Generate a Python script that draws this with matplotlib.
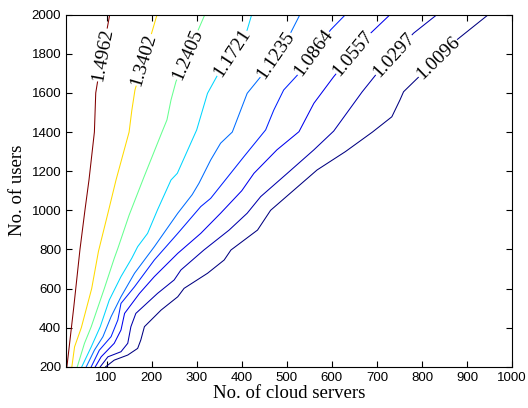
import numpy as np
import matplotlib
matplotlib.use("Agg")
import matplotlib.pyplot as plt
from matplotlib.colors import Normalize

# Contour levels of the cost ratio (servers vs. users)
levels = [1.0096, 1.0297, 1.0557, 1.0864, 1.1235, 1.1721, 1.2405, 1.3402, 1.4962]

# Iso-lines: (no. of cloud servers, no. of users) pairs per level
servers_10096 = [98, 117, 147, 169, 176, 184, 221, 258, 272, 324, 361, 376, 435, 464, 567, 630, 690, 733, 751, 759, 877, 947]
users_10096 = [200, 234, 260, 294, 337, 405, 490, 558, 601, 678, 746, 797, 899, 1000, 1206, 1300, 1400, 1478, 1564, 1606, 1871, 2000]

servers_10297 = [86, 103, 132, 147, 154, 165, 213, 250, 265, 316, 372, 412, 442, 501, 560, 604, 667, 700, 781, 833]
users_10297 = [200, 251, 277, 320, 405, 473, 575, 644, 695, 797, 899, 985, 1070, 1189, 1309, 1405, 1605, 1700, 1905, 2000]

servers_10557 = [75, 88, 117, 132, 140, 173, 206, 258, 309, 353, 400, 427, 478, 527, 560, 604, 678, 729]
users_10557 = [200, 251, 320, 388, 473, 575, 661, 780, 882, 985, 1100, 1189, 1309, 1402, 1547, 1683, 1888, 2000]

servers_10864 = [66, 84, 110, 125, 132, 162, 206, 258, 309, 331, 405, 453, 471, 493, 523, 597, 630]
users_10864 = [200, 285, 354, 439, 524, 609, 746, 882, 1019, 1061, 1275, 1411, 1512, 1615, 1690, 1922, 2000]

servers_11235 = [55, 73, 92, 110, 132, 162, 206, 258, 290, 305, 331, 353, 379, 412, 442, 508, 529]
users_11235 = [200, 285, 354, 456, 558, 678, 814, 985, 1080, 1138, 1257, 1343, 1400, 1598, 1683, 1905, 2000]

servers_11721 = [45, 66, 86, 106, 132, 156, 169, 191, 213, 243, 257, 300, 324, 346, 412, 422]
users_11721 = [200, 302, 405, 541, 661, 755, 814, 882, 1002, 1155, 1189, 1411, 1598, 1690, 1922, 2000]

servers_12405 = [35, 51, 66, 95, 117, 125, 150, 183, 223, 234, 243, 254, 318]
users_12405 = [200, 320, 405, 600, 754, 805, 975, 1170, 1400, 1462, 1564, 1658, 2000]

servers_13402 = [23, 29, 44, 67, 82, 103, 121, 150, 156, 163, 212]
users_13402 = [200, 302, 400, 600, 790, 985, 1155, 1400, 1510, 1615, 2000]

servers_14962 = [12, 27, 41, 52, 61, 73, 76, 83, 107]
users_14962 = [200, 500, 800, 1000, 1155, 1400, 1600, 1700, 2000]

# Height (no. of users) where each level's inline label sits
label_users = [1777, 1794, 1803, 1803, 1794, 1803, 1794, 1769, 1794]

x_ticks = [100, 200, 300, 400, 500, 600, 700, 800, 900, 1000]
y_ticks = [200, 400, 600, 800, 1000, 1200, 1400, 1600, 1800, 2000]

curves = [
    (servers_10096, users_10096),
    (servers_10297, users_10297),
    (servers_10557, users_10557),
    (servers_10864, users_10864),
    (servers_11235, users_11235),
    (servers_11721, users_11721),
    (servers_12405, users_12405),
    (servers_13402, users_13402),
    (servers_14962, users_14962),
]

serif = ["Liberation Serif", "DejaVu Serif"]
sans = ["Liberation Sans", "DejaVu Sans"]

fig = plt.figure(figsize=(5.28, 4.08), dpi=100)
ax = fig.add_axes([0.125, 0.101, 0.845, 0.863])

cmap = plt.get_cmap("jet")
norm = Normalize(vmin=min(levels), vmax=max(levels))

ax.set_xlim(10, 1000)
ax.set_ylim(200, 2000)

for lev, (xs, ys) in zip(levels, curves):
    ax.plot(xs, ys, color=cmap(norm(lev)), lw=0.75, zorder=2)

fig.canvas.draw()

# Inline labels, rotated along their own line
for lev, (xs, ys), ly in zip(levels, curves, label_users):
    lx = np.interp(ly, ys, xs)
    x0 = np.interp(ly - 60, ys, xs)
    x1 = np.interp(ly + 60, ys, xs)
    p0 = ax.transData.transform((x0, ly - 60))
    p1 = ax.transData.transform((x1, ly + 60))
    ang = np.degrees(np.arctan2(p1[1] - p0[1], p1[0] - p0[0]))
    ax.text(lx, ly, f"{lev:.4f}", rotation=ang, rotation_mode="anchor",
            ha="center", va="center", fontsize=14, family=serif,
            bbox=dict(boxstyle="square,pad=0.0", fc="white", ec="none"),
            zorder=3)

ax.set_xticks(x_ticks)
ax.set_yticks(y_ticks)
ax.set_xticklabels([str(v) for v in x_ticks], family=sans, fontsize=9.5)
ax.set_yticklabels([str(v) for v in y_ticks], family=sans, fontsize=9.5)
ax.tick_params(direction="in", top=True, right=True, length=4, width=0.8)
for s in ax.spines.values():
    s.set_linewidth(0.8)

ax.set_xlabel("No. of cloud servers", family=serif, fontsize=13.5, labelpad=1)
ax.set_ylabel("No. of users", family=serif, fontsize=13.5, labelpad=4)

fig.savefig("out.png", dpi=100)
